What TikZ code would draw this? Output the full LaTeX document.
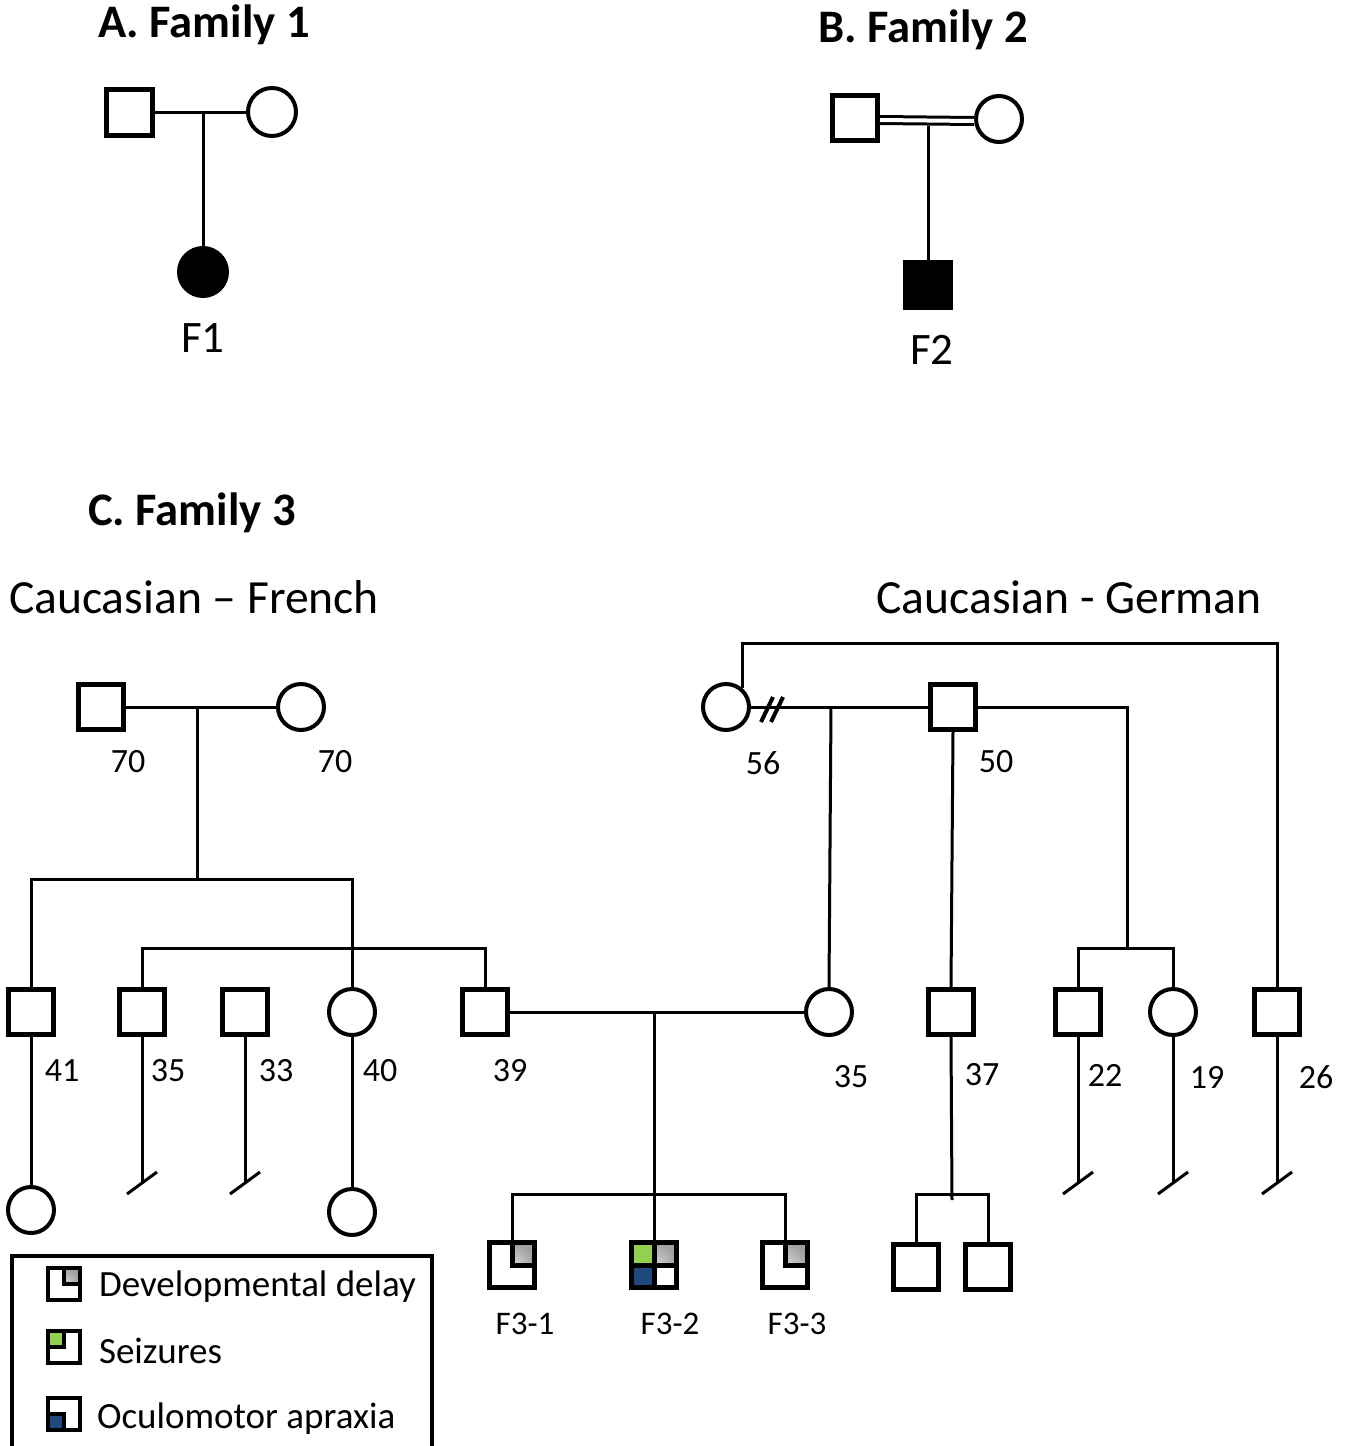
\documentclass[tikz,border=0pt]{standalone}
\usepackage{fontspec}
\setmainfont{Carlito}
\definecolor{szgreen}{HTML}{92D050}
\definecolor{oablue}{HTML}{1F497D}
\newcommand\pqdd{\shade[inner color=gray!30, outer color=gray!75] (path picture bounding box.center) rectangle (path picture bounding box.north east);}
\newcommand\pqsz{\fill[szgreen] (path picture bounding box.center) rectangle (path picture bounding box.north west);}
\newcommand\pqoa{\fill[oablue] (path picture bounding box.center) rectangle (path picture bounding box.south west);}
\newcommand\nochild[1]{\draw[ln] ([shift={(-15,11)}]#1) -- ([shift={(15,-11)}]#1);}
\begin{document}
\begin{tikzpicture}[x=0.5pt,y=-0.5pt,
  sq/.style={draw, rectangle, line width=2.5pt, minimum size=22.5pt, inner sep=0pt, fill=white},
  ci/.style={draw, circle, line width=2pt, minimum size=23pt, inner sep=0pt, fill=white},
  lsq/.style={draw, rectangle, line width=2.2pt, minimum size=16pt, inner sep=0pt, fill=white},
  ln/.style={line width=1.5pt},
  age/.style={font=\fontsize{17}{19}\selectfont},
  idl/.style={font=\fontsize{16.5}{18}\selectfont},
  big/.style={font=\fontsize{22.5}{25}\selectfont},
  hd/.style={font=\fontsize{23.3}{26}\selectfont\bfseries},
  eth/.style={font=\fontsize{23.8}{26}\selectfont},
  leg/.style={font=\fontsize{18.5}{22}\selectfont, anchor=west},
  dd/.style={path picture={\pqdd
     \draw[line width=2.5pt] (path picture bounding box.north) -- (path picture bounding box.center) -- (path picture bounding box.east);}},
  ddl/.style={path picture={\pqdd
     \draw[line width=2.2pt] (path picture bounding box.north) -- (path picture bounding box.center) -- (path picture bounding box.east);}},
  szl/.style={path picture={\pqsz
     \draw[line width=2.2pt] (path picture bounding box.north) -- (path picture bounding box.center) -- (path picture bounding box.west);}},
  oal/.style={path picture={\pqoa
     \draw[line width=2.2pt] (path picture bounding box.west) -- (path picture bounding box.center) -- (path picture bounding box.south);}},
  all/.style={path picture={\pqdd\pqsz\pqoa
     \draw[line width=2.5pt] (path picture bounding box.north) -- (path picture bounding box.south)
       (path picture bounding box.west) -- (path picture bounding box.east);}}
]
\useasboundingbox (0,0) rectangle (1351,1446);

% ---------- headers ----------
\node[hd] (hA) at (204,25) {A. Family 1};
\node[hd] (hB) at (923,30) {B. Family 2};
\node[hd] (hC) at (192,513) {C. Family 3};
\node[eth] (eF) at (194,597) {Caucasian – French};
\node[eth] (eG) at (1069,597) {Caucasian - German};

% ---------- Family 1 ----------
\node[sq, minimum size=23pt] (f1m) at (129,112) {};
\node[ci, minimum size=24pt] (f1f) at (272,112) {};
\node[ci, minimum size=24pt, fill=black] (f1k) at (203,272) {};
\node[big] (f1l) at (203,338) {F1};
\coordinate (f1j) at (203,112);
\draw[ln] (f1m.east) -- (f1f.west);
\draw[ln] (f1j) -- (f1k.north);

% ---------- Family 2 ----------
\node[sq] (f2m) at (855,118) {};
\node[ci] (f2f) at (999,119) {};
\node[sq, fill=black] (f2k) at (928,285) {};
\node[big] (f2l) at (932,350) {F2};
\draw[line width=1.5pt, double, double distance=2pt] ([yshift=-1pt]f2m.east) -- ([yshift=-1pt]f2f.west);
\draw[ln] ([yshift=-4pt]f2m.east -| f2k.north) -- (f2k.north);

% ---------- Family 3: French side ----------
\node[sq] (gpm) at (101,707) {};
\node[ci] (gpf) at (301,707) {};
\node[age] at (128,762) {70};
\node[age] at (335,762) {70};
\draw[ln] (gpm.east) -- (gpf.west);
\coordinate (c1) at (197,707);
\coordinate (c1b) at (197,879);
\draw[ln] (c1) -- (c1b);

\node[sq] (s41) at (31,1012) {};
\node[sq] (s35) at (142,1012) {};
\node[sq] (s33) at (245,1012) {};
\node[ci] (c40) at (352,1012) {};
\node[sq] (s39) at (485,1012) {};
\node[age] at (62,1071) {41};
\node[age] at (168,1071) {35};
\node[age] at (276,1071) {33};
\node[age] at (380,1071) {40};
\node[age] at (510,1071) {39};

\coordinate (r1a) at (31,879);
\coordinate (r1b) at (352,879);
\draw[ln] (s41.north) -- (r1a) -- (r1b) -- (c40.north);
\coordinate (r2a) at (142,948);
\coordinate (r2b) at (485,948);
\draw[ln] (s35.north) -- (r2a) -- (r2b) -- (s39.north);

\node[ci] (d41) at (31,1210) {};
\node[ci] (d40) at (352,1212) {};
\draw[ln] (s41.south) -- (d41.north);
\draw[ln] (c40.south) -- (d40.north);
\coordinate (e35) at (142,1183);
\coordinate (e33) at (245,1183);
\draw[ln] (s35.south) -- (e35);
\draw[ln] (s33.south) -- (e33);
\nochild{e35}
\nochild{e33}

% ---------- Family 3: German side ----------
\node[ci] (g56) at (726,707) {};
\node[sq] (g50) at (953,707) {};
\node[age] at (763,763) {56};
\node[age] at (996,762) {50};
\draw[ln] (g56.east) -- (g50.west);
\draw[line width=2pt] (761,722) -- (773,697);
\draw[line width=2pt] (771,722) -- (783,697);

\node[ci] (w35) at (829,1012) {};
\node[sq] (g37) at (951,1012) {};
\node[sq] (g22) at (1078,1012) {};
\node[ci] (g19) at (1173,1012) {};
\node[sq] (g26) at (1277,1012) {};
\node[age] at (851,1077) {35};
\node[age] at (982,1075) {37};
\node[age] at (1105,1075) {22};
\node[age] at (1207,1077) {19};
\node[age] at (1316,1077) {26};

\coordinate (topR) at (1277,643);
\draw[ln] (g56.48) |- (topR) -- (g26.north);
\coordinate (c2) at (831,707);
\draw[ln] (c2) -- (w35.north);
\draw[ln] (g50.south) -- (g37.north);
\coordinate (c3) at (1127,707);
\coordinate (c3b) at (1127,948);
\draw[ln] (g50.east) -- (c3) -- (c3b);
\coordinate (r3a) at (1078,948);
\coordinate (r3b) at (1173,948);
\draw[ln] (g22.north) -- (r3a) -- (r3b) -- (g19.north);

\coordinate (e22) at (1078,1183);
\coordinate (e19) at (1173,1183);
\coordinate (e26) at (1277,1183);
\draw[ln] (g22.south) -- (e22);
\draw[ln] (g19.south) -- (e19);
\draw[ln] (g26.south) -- (e26);
\nochild{e22}
\nochild{e19}
\nochild{e26}

\node[sq] (gc1) at (916,1267) {};
\node[sq] (gc2) at (988,1267) {};
\coordinate (c37) at (952,1200);
\draw[ln] (g37.south) -- (c37);
\coordinate (r4a) at (916,1194);
\coordinate (r4b) at (988,1194);
\draw[ln] (gc1.north) -- (r4a) -- (r4b) -- (gc2.north);

% ---------- Family 3: couple 39 x 35 and children ----------
\draw[ln] (s39.east) -- (w35.west);
\node[sq, dd] (k1) at (512,1265) {};
\node[sq, all] (k2) at (654,1265) {};
\node[sq, dd] (k3) at (785,1265) {};
\node[idl] at (525,1324) {F3-1};
\node[idl] at (670,1324) {F3-2};
\node[idl] at (797,1324) {F3-3};
\coordinate (c4) at (654,1012);
\draw[ln] (c4) -- (k2.north);
\coordinate (r5a) at (512,1194);
\coordinate (r5b) at (785,1194);
\draw[ln] (k1.north) -- (r5a) -- (r5b) -- (k3.north);

% ---------- legend ----------
\coordinate (lb1) at (12,1446);
\coordinate (lb2) at (12,1256);
\coordinate (lb3) at (432,1256);
\coordinate (lb4) at (432,1446);
\draw[line width=2pt] (lb1) -- (lb2) -- (lb3) -- (lb4);
\node[lsq, ddl] (L1) at (64,1284) {};
\node[lsq, szl] (L2) at (64,1347) {};
\node[lsq, oal] (L3) at (64,1414) {};
\node[leg] at (92,1287) {Developmental delay};
\node[leg] at (92,1351) {Seizures};
\node[leg] at (90,1419) {Oculomotor apraxia};
\end{tikzpicture}
\end{document}
